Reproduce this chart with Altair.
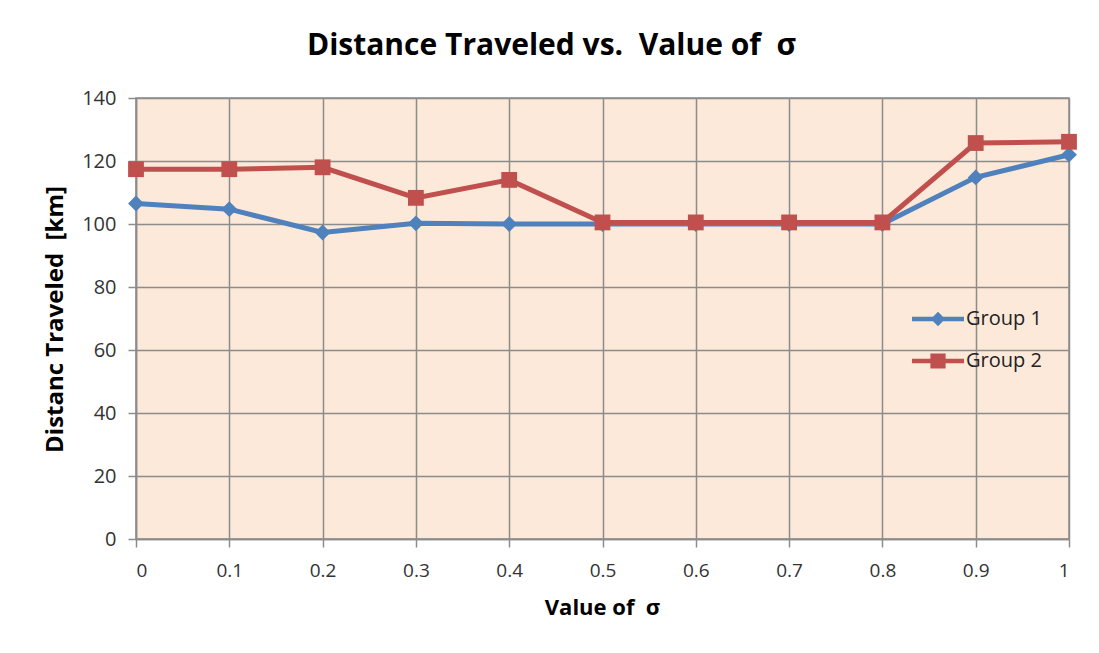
import altair as alt
import pandas as pd

sigma = [0.0, 0.1, 0.2, 0.3, 0.4, 0.5, 0.6, 0.7, 0.8, 0.9, 1.0]
group1 = [106.5, 104.7, 97.3, 100.2, 100.0, 100.0, 100.0, 100.0, 100.0, 114.8, 122.0]
group2 = [117.4, 117.4, 118.0, 108.3, 114.0, 100.5, 100.5, 100.5, 100.5, 125.7, 126.1]
groups = ["Group 1", "Group 2"]
colors = ["#4F81BD", "#C0504D"]
y_ticks = [0, 20, 40, 60, 80, 100, 120, 140]
x_ticks = [0.0, 0.1, 0.2, 0.3, 0.4, 0.5, 0.6, 0.7, 0.8, 0.9, 1.0]

df = pd.concat([
    pd.DataFrame({"sigma": sigma, "value": group1, "group": groups[0]}),
    pd.DataFrame({"sigma": sigma, "value": group2, "group": groups[1]}),
], ignore_index=True)

FONT = "Open Sans"
GRID = "#8C8C8C"
NB = "\u00a0"

# legend symbols: a line with the marker on it
leg_line = "M-3.25,-0.28L3.25,-0.28L3.25,0.28L-3.25,0.28Z"
leg_paths = [
    leg_line + " M0,-0.9L0.9,0L0,0.9L-0.9,0Z",
    leg_line + " M-0.95,-0.95L0.95,-0.95L0.95,0.95L-0.95,0.95Z",
]

x_enc = alt.X(
    "sigma:Q",
    scale=alt.Scale(domain=[0, 1], nice=False, zero=False),
    axis=alt.Axis(
        values=x_ticks, format="~g", title="Value of" + NB + " σ",
        grid=True, gridColor=GRID, gridWidth=1.5,
        domainColor=GRID, domainWidth=1.5,
        tickColor=GRID, tickWidth=1.5, tickSize=8,
        labelFont=FONT, labelFontSize=19, labelColor="#333333", labelPadding=14,
        titleFont=FONT, titleFontSize=22, titleFontWeight="bold", titleColor="#000000",
        titleX=466, titleY=68, titleBaseline="middle", titleAlign="center",
    ),
)
y_enc = alt.Y(
    "value:Q",
    scale=alt.Scale(domain=[0, 140], nice=False),
    axis=alt.Axis(
        values=y_ticks, title="Distanc Traveled" + NB + " [km]",
        grid=True, gridColor=GRID, gridWidth=1.5,
        domainColor=GRID, domainWidth=1.5,
        tickColor=GRID, tickWidth=1.5, tickSize=8,
        labelFont=FONT, labelFontSize=20, labelColor="#333333", labelPadding=12,
        titleFont=FONT, titleFontSize=24, titleFontWeight="bold", titleColor="#000000",
        titleX=-81, titleY=221, titleBaseline="middle", titleAlign="center", titleAngle=270,
    ),
)

legend_props = dict(
    title=None, orient="none", legendX=792, legendY=211,
    symbolSize=256, labelFont=FONT, labelFontSize=20, labelColor="#222222",
    labelOffset=18, rowPadding=22, padding=0, symbolStrokeWidth=0,
)
color_enc = alt.Color("group:N", scale=alt.Scale(domain=groups, range=colors),
                      legend=alt.Legend(**legend_props))

lines = alt.Chart(df).mark_line(strokeWidth=5).encode(
    x=x_enc, y=y_enc, color=color_enc, detail="group:N"
)

points = alt.Chart(df).mark_point(filled=True, opacity=1, size=250).encode(
    x=x_enc, y=y_enc, color=color_enc,
    shape=alt.condition(alt.datum.group == "Group 1", alt.value("diamond"), alt.value("square")),
)

legend_layer = alt.Chart(df).transform_filter("datum.value < -1000").mark_point(
    filled=True, opacity=1
).encode(
    x=x_enc, y=y_enc,
    color=color_enc,
    shape=alt.Shape("group:N", scale=alt.Scale(domain=groups, range=leg_paths),
                    legend=alt.Legend(**legend_props)),
)

chart = alt.layer(lines, points, legend_layer).properties(
    width=933,
    height=441,
    background="#FFFFFF",
    title=alt.TitleParams(
        "Distance Traveled vs." + NB + " Value of" + NB + " σ",
        font=FONT, fontSize=30, fontWeight="bold", color="#000000",
        anchor="middle", dx=-51, offset=3, baseline="alphabetic",
    ),
    autosize=alt.AutoSizeParams(type="none"),
    padding={"left": 128, "top": 90, "right": 12, "bottom": 90},
).configure_view(
    fill="#FDE9D9", stroke=GRID, strokeWidth=1.5
)

chart.save("out.html", embed_options={"renderer": "svg", "actions": False})
